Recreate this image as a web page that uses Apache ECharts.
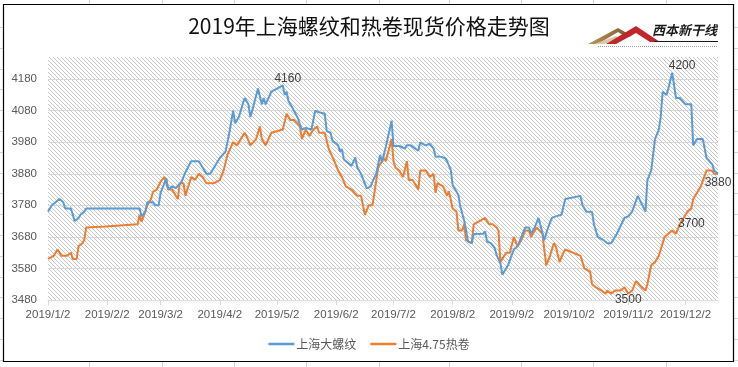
<!DOCTYPE html>
<html><head><meta charset="utf-8">
<script src="https://cdn.jsdelivr.net/npm/echarts@6/dist/echarts.min.js"></script>
<style>html,body{margin:0;padding:0;background:#fff}#c{width:738px;height:367px}</style>
</head><body><div id="c"></div>
<script>
const titleText = '2019年上海螺纹和热卷现货价格走势图';
const seriesNames = ['上海大螺纹', '上海4.75热卷'];
const year = 2019;
const axisStart = [1, 2], axisEnd = [12, 19];
const yMin = 3480, yMax = 4250, yStep = 100;

const rebarDates = ['1/2','1/4','1/6','1/8','1/9','1/10','1/11','1/14','1/16','1/17','1/18','1/19','1/21','1/22','2/1','2/16','2/19','2/20','2/22','2/23','2/26','2/27','3/1','3/2','3/5','3/6','3/8','3/10','3/11','3/13','3/15','3/18','3/22','3/24','3/26','3/28','3/30','4/2','4/5','4/7','4/9','4/10','4/12','4/13','4/15','4/17','4/18','4/19','4/22','4/24','4/25','4/26','4/29','5/2','5/5','5/6','5/7','5/8','5/10','5/13','5/14','5/15','5/17','5/20','5/22','5/24','5/27','5/28','5/30','5/31','6/3','6/4','6/5','6/6','6/10','6/12','6/13','6/15','6/18','6/20','6/21','6/23','6/25','6/26','6/28','7/1','7/2','7/5','7/8','7/9','7/11','7/15','7/16','7/19','7/21','7/23','7/24','7/26','7/29','7/30','8/1','8/2','8/5','8/6','8/8','8/9','8/10','8/12','8/13','8/18','8/19','8/20','8/22','8/24','8/25','8/27','8/28','8/29','8/31','9/3','9/5','9/7','9/9','9/11','9/12','9/14','9/16','9/17','9/19','9/21','9/23','9/25','9/28','9/30','10/8','10/9','10/11','10/14','10/15','10/17','10/20','10/22','10/23','10/24','10/27','10/29','10/31','11/2','11/4','11/7','11/8','11/11','11/12','11/14','11/16','11/18','11/19','11/20','11/22','11/23','11/25','11/26','11/27','11/29','12/2','12/5','12/6','12/8','12/11','12/13','12/16','12/17','12/19'];
const rebarValues = [3760,3780,3790,3800,3800,3790,3770,3770,3730,3730,3740,3750,3760,3770,3770,3770,3770,3745,3760,3790,3790,3780,3780,3820,3865,3830,3840,3835,3830,3855,3885,3920,3920,3900,3880,3880,3900,3930,3950,4010,4080,4040,4060,4060,4120,4100,4060,4080,4150,4100,4120,4100,4140,4150,4160,4130,4140,4110,4090,4055,4035,4020,4025,4020,4080,4075,4070,4015,4010,3985,3970,3950,3958,3925,3905,3932,3900,3880,3834,3840,3855,3880,3940,3918,3966,4048,3968,3968,3960,3970,3970,3953,3979,3970,3975,3960,3934,3935,3930,3921,3892,3844,3813,3776,3733,3702,3665,3660,3689,3690,3697,3665,3660,3645,3623,3596,3560,3560,3590,3640,3650,3680,3710,3710,3690,3710,3740,3740,3670,3710,3740,3745,3750,3800,3810,3780,3760,3760,3720,3680,3670,3660,3665,3660,3690,3715,3740,3745,3760,3810,3810,3760,3860,3890,3990,4020,4060,4140,4130,4150,4200,4200,4120,4120,4100,4100,3970,3990,3990,3930,3910,3890,3880];

const coilDates = ['1/2','1/3','1/5','1/7','1/9','1/12','1/14','1/15','1/17','1/18','1/20','1/21','1/22','2/1','2/18','2/19','2/20','2/22','2/23','2/25','2/26','2/28','3/2','3/4','3/6','3/8','3/9','3/11','3/12','3/14','3/15','3/18','3/20','3/21','3/22','3/24','3/26','3/30','4/2','4/4','4/6','4/9','4/11','4/12','4/15','4/16','4/18','4/21','4/23','4/24','4/26','4/29','5/5','5/7','5/9','5/11','5/14','5/15','5/17','5/19','5/21','5/23','5/24','5/27','5/29','6/1','6/3','6/5','6/7','6/10','6/11','6/13','6/15','6/16','6/17','6/18','6/19','6/21','6/23','6/24','6/26','6/27','6/28','7/1','7/2','7/3','7/5','7/7','7/9','7/10','7/12','7/15','7/16','7/19','7/21','7/23','7/24','7/25','7/28','7/30','7/31','8/2','8/4','8/5','8/7','8/8','8/9','8/12','8/13','8/16','8/19','8/21','8/23','8/25','8/26','8/27','8/28','8/30','9/1','9/3','9/4','9/5','9/7','9/9','9/11','9/12','9/15','9/16','9/18','9/20','9/22','9/24','9/25','9/27','9/29','9/30','10/8','10/9','10/10','10/13','10/14','10/16','10/19','10/21','10/22','10/24','10/26','10/29','10/31','11/2','11/4','11/6','11/9','11/11','11/12','11/14','11/16','11/18','11/19','11/21','11/23','11/25','11/26','11/27','11/29','12/2','12/3','12/5','12/6','12/8','12/10','12/11','12/13','12/16','12/17','12/19'];
const coilValues = [3610,3610,3620,3640,3620,3620,3630,3610,3610,3650,3660,3670,3710,3713,3720,3750,3728,3760,3780,3800,3823,3830,3855,3870,3830,3830,3820,3800,3850,3850,3810,3870,3860,3860,3880,3870,3850,3850,3860,3890,3940,3980,3970,3970,4010,4000,3970,3990,4030,3990,3970,4010,4020,4070,4050,4050,4030,3990,4020,4000,4020,4030,4010,4010,3960,3920,3890,3870,3840,3830,3834,3810,3810,3780,3750,3750,3780,3780,3860,3900,3920,3930,3920,3990,3920,3900,3890,3870,3920,3860,3860,3830,3890,3890,3870,3880,3820,3850,3840,3810,3825,3770,3760,3700,3700,3720,3670,3660,3720,3730,3740,3720,3720,3710,3700,3600,3600,3630,3630,3680,3680,3650,3670,3700,3700,3680,3710,3705,3690,3590,3620,3660,3650,3600,3630,3640,3620,3600,3580,3570,3530,3520,3510,3500,3510,3500,3510,3510,3520,3500,3510,3540,3520,3510,3530,3590,3600,3620,3640,3680,3690,3700,3700,3690,3720,3750,3760,3770,3800,3820,3840,3845,3890,3890,3880,3880];

// points whose values are printed on the chart
const rebarLabelDates = ['5/5', '11/26'];
const coilLabelDates = ['11/2', '11/26', '12/19'];

// ---- build ----
const cats = [];
for (let d = new Date(year, axisStart[0]-1, axisStart[1]); d <= new Date(year, axisEnd[0]-1, axisEnd[1]); d.setDate(d.getDate()+1)) {
  cats.push(year + '/' + (d.getMonth()+1) + '/' + d.getDate());
}
const rebarLabelStyle = {
  '5/5': {position: 'top', distance: 1, offset: [5, 0]},
  '11/26': {position: 'top', distance: 1, offset: [8, 0]}
};
const coilLabelStyle = {
  '11/2': {position: 'bottom', distance: 0},
  '11/26': {position: 'right', distance: 4, offset: [0, -7]},
  '12/19': {position: 'bottom', distance: 3}
};
function build(dates, vals, labelDates, styles) {
  return dates.map((d, i) => {
    const item = {value: [year + '/' + d, vals[i]]};
    if (labelDates.includes(d)) {
      item.label = Object.assign({show: true, formatter: p => String(p.value[1]), color: '#404040', fontSize: 12,
        fontFamily: 'Liberation Sans, Arial, sans-serif'}, styles[d]);
    }
    return item;
  });
}

// hatch pattern for plot area
const pc = document.createElement('canvas');
pc.width = 4; pc.height = 4;
const g = pc.getContext('2d');
g.fillStyle = '#ffffff'; g.fillRect(0, 0, 4, 4);
g.fillStyle = '#c6c6c6';
for (let i = 0; i < 4; i++) g.fillRect(i, i, 1, 1);

const isSecond = (idx, val) => val.split('/')[2] === '2';

// spreadsheet cell lines visible around the chart frame
const cellLines = [];
[89, 162, 234, 306, 379, 449, 521, 593, 666].forEach(x => {
  cellLines.push({type: 'line', shape: {x1: x + 0.5, y1: 0, x2: x + 0.5, y2: 4}, style: {stroke: '#d4d4d4', lineWidth: 1}, silent: true});
  cellLines.push({type: 'line', shape: {x1: x + 0.5, y1: 362, x2: x + 0.5, y2: 367}, style: {stroke: '#d4d4d4', lineWidth: 1}, silent: true});
});
for (let y = 27; y < 367; y += 20.8) {
  cellLines.push({type: 'line', shape: {x1: 0, y1: Math.round(y) + 0.5, x2: 3, y2: Math.round(y) + 0.5}, style: {stroke: '#d4d4d4', lineWidth: 1}, silent: true});
  cellLines.push({type: 'line', shape: {x1: 734, y1: Math.round(y) + 0.5, x2: 738, y2: Math.round(y) + 0.5}, style: {stroke: '#d4d4d4', lineWidth: 1}, silent: true});
}

const logo = {
  type: 'group', left: 588, top: 24, silent: true,
  children: [
    {type: 'polygon', shape: {points: [[0, 22], [30, 6], [44, 14], [38, 15], [30, 10], [10, 22]]},
     style: {fill: new echarts.graphic.LinearGradient(0, 0, 1, 1, [{offset: 0, color: '#c8a060'}, {offset: 1, color: '#6b4a2a'}])}},
    {type: 'polygon', shape: {points: [[6, 22], [28, 14], [34, 17], [16, 22]]}, style: {fill: '#d8c8a8'}},
    {type: 'polygon', shape: {points: [[18, 22], [48, 4], [72, 20], [62, 20], [48, 11], [28, 22]]}, style: {fill: '#c0262c'}},
    {type: 'text', left: 64, top: 2, style: {text: '西本新干线', fontSize: 13, fontWeight: 'bold', fontStyle: 'italic', fill: '#1a1a1a', fontFamily: 'Noto Sans CJK SC, sans-serif'}},
    {type: 'line', shape: {x1: 66, y1: 19.5, x2: 130, y2: 19.5}, style: {stroke: '#1a1a1a', lineWidth: 1}},
    {type: 'line', shape: {x1: 10, y1: 24.5, x2: 130, y2: 24.5}, style: {stroke: '#9a9a9a', lineWidth: 1, lineDash: [1, 1]}}
  ]
};

const chart = echarts.init(document.getElementById('c'), null, {renderer: 'canvas'});
chart.setOption({
  backgroundColor: '#ffffff',
  animation: false,
  title: {
    text: titleText, left: 'center', top: 11,
    textStyle: {fontSize: 21, fontWeight: 'normal', color: '#111', fontFamily: 'Noto Sans CJK SC, sans-serif'}
  },
  legend: {
    data: seriesNames, left: 'center', top: 333, icon: 'rect', itemWidth: 26, itemHeight: 2.5, itemGap: 14,
    textStyle: {fontSize: 12, color: '#595959', fontFamily: 'Noto Sans CJK SC, sans-serif', padding: [0, 0, 0, -3]}
  },
  grid: {left: 48, right: 20, top: 57, bottom: 67, show: true, borderWidth: 0, backgroundColor: {image: pc, repeat: 'repeat'}},
  xAxis: {
    type: 'category', data: cats, boundaryGap: false,
    axisLine: {lineStyle: {color: '#d9d9d9', width: 1}},
    axisTick: {show: true, interval: isSecond, length: 5, lineStyle: {color: '#d9d9d9'}},
    axisLabel: {interval: isSecond, formatter: v => v, color: '#595959', fontSize: 11.5, margin: 9, fontFamily: 'Liberation Sans, Arial, sans-serif'},
    splitLine: {show: false}
  },
  yAxis: {
    type: 'value', min: yMin, max: yMax, interval: yStep,
    axisLine: {show: false}, axisTick: {show: false},
    axisLabel: {formatter: v => String(v), color: '#595959', fontSize: 11.5, margin: 11, showMaxLabel: false, fontFamily: 'Liberation Sans, Arial, sans-serif'},
    splitLine: {show: true, showMaxLine: false, lineStyle: {color: '#d9d9d9', width: 1}}
  },
  series: [
    {name: seriesNames[0], type: 'line', data: build(rebarDates, rebarValues, rebarLabelDates, rebarLabelStyle),
     showSymbol: true, showAllSymbol: true, symbol: 'circle', symbolSize: 0.01, lineStyle: {color: '#5b9bd5', width: 2},
     itemStyle: {color: '#5b9bd5'}, clip: false, z: 3, emphasis: {disabled: true}},
    {name: seriesNames[1], type: 'line', data: build(coilDates, coilValues, coilLabelDates, coilLabelStyle),
     showSymbol: true, showAllSymbol: true, symbol: 'circle', symbolSize: 0.01, lineStyle: {color: '#ed7d31', width: 2},
     itemStyle: {color: '#ed7d31'}, clip: false, z: 2, emphasis: {disabled: true}}
  ],
  graphic: [
    {type: 'rect', shape: {x: 3.5, y: 4.5, width: 730, height: 357}, style: {fill: 'none', stroke: '#000', lineWidth: 1.2}, z: 100, silent: true},
    logo
  ].concat(cellLines)
});
</script></body></html>
